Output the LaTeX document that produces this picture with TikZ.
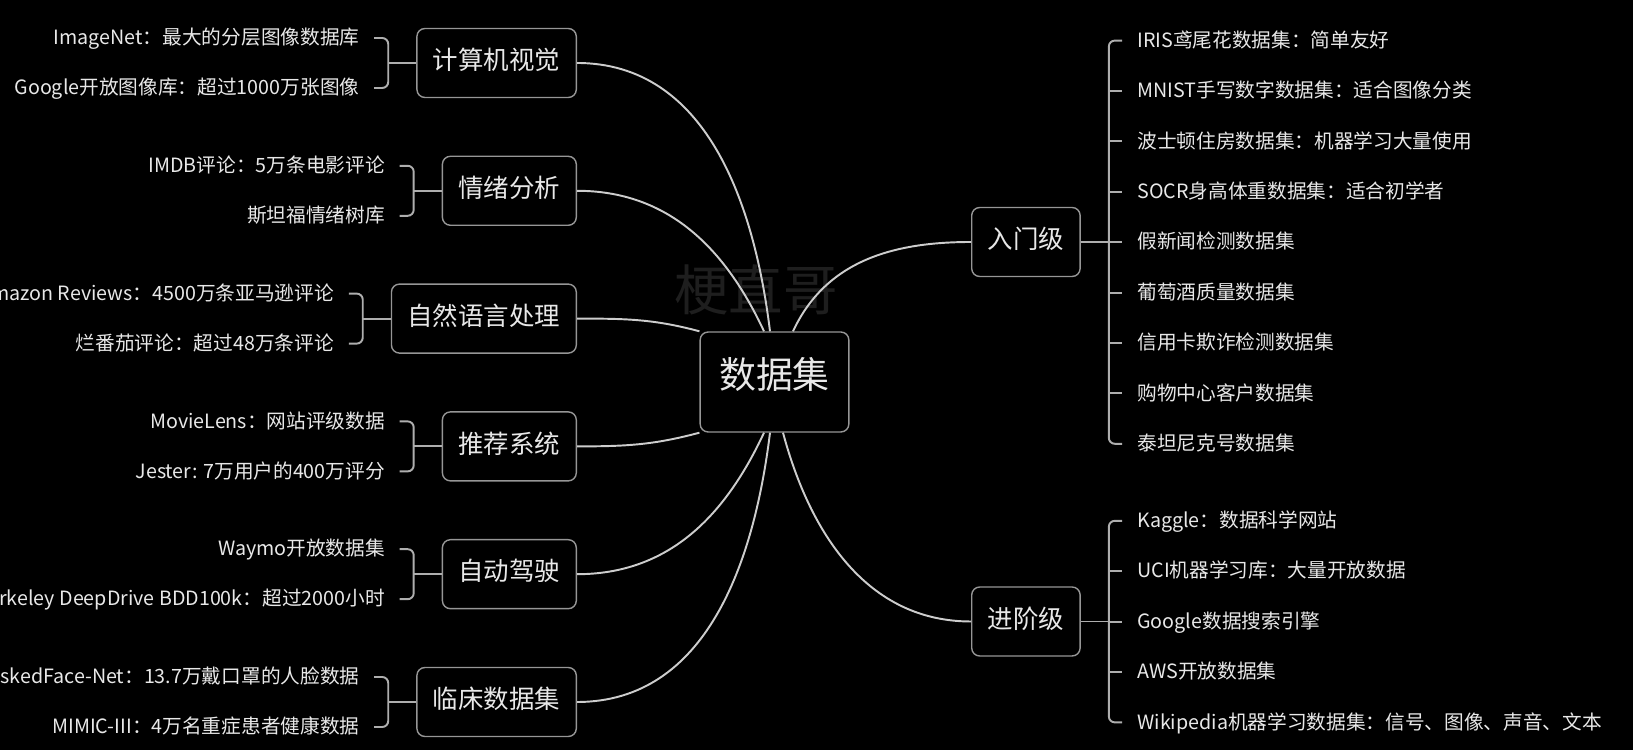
\documentclass[tikz,border=0pt]{standalone}
\usepackage{fontspec}
\setmainfont{Noto Sans CJK SC}
\usepackage{tikz}
\usetikzlibrary{positioning}
\definecolor{paper}{RGB}{0, 0, 0}
\definecolor{ink}{RGB}{232, 232, 232}
\definecolor{frame}{RGB}{150, 150, 150}
\definecolor{cord}{RGB}{205, 205, 205}
\definecolor{ghost}{RGB}{30, 30, 30}

\tikzset{
  hub/.style={draw=frame, line width=0.8pt, rounded corners=0.16cm, fill=paper, text=ink,
    font=\fontsize{21pt}{21pt}\selectfont, inner xsep=0.38cm, minimum height=2cm,
    text height=0.8em, text depth=0.04em},
  topic/.style={draw=frame, line width=0.8pt, rounded corners=0.16cm, fill=paper, text=ink,
    font=\fontsize{14.5pt}{14.5pt}\selectfont, inner xsep=0.32cm, minimum height=1.38cm,
    text height=0.8em, text depth=0.04em},
  leaf/.style={text=ink, inner sep=0pt, font=\fontsize{11.2pt}{11.2pt}\selectfont,
    text height=0.8em, text depth=0.04em},
  link/.style={draw=cord, line width=1.1pt},
  brace/.style={draw=cord!85!black, line width=1.1pt, rounded corners=0.12cm}
}

\begin{document}
\begin{tikzpicture}[x=0.02cm, y=0.02cm]

  \pgfmathsetmacro{\gap}{127.8}
  \pgfmathsetmacro{\pitch}{50.4}

  \fill[paper] (0, 0) rectangle (1633, 750);
  \useasboundingbox (0, 0) rectangle (1633, 750);

  \node[text=ghost, font=\fontsize{31pt}{31pt}\selectfont] (mark) at (756, 460) {梗直哥};

  \node[hub] (data) at (774.5, 368) {数据集};

  % left side
  \node[topic, anchor=east] (vision) at (577, 687) {计算机视觉};
  \node[topic, anchor=east] (mood)   at (577, {687 - \gap}) {情绪分析};
  \node[topic, anchor=east] (nlp)    at (577, {687 - 2*\gap}) {自然语言处理};
  \node[topic, anchor=east] (recsys) at (577, {687 - 3*\gap}) {推荐系统};
  \node[topic, anchor=east] (drive)  at (577, {687 - 4*\gap}) {自动驾驶};
  \node[topic, anchor=east] (clinic) at (577, {687 - 5*\gap}) {临床数据集};

  \node[leaf, anchor=east] (vision-a) at ([xshift=-1.13cm, yshift=0.5cm]vision.west) {ImageNet：最大的分层图像数据库};
  \node[leaf, anchor=east] (vision-b) at ([xshift=-1.13cm, yshift=-0.5cm]vision.west) {Google开放图像库：超过1000万张图像};
  \node[leaf, anchor=east] (mood-a) at ([xshift=-1.13cm, yshift=0.5cm]mood.west) {IMDB评论：5万条电影评论};
  \node[leaf, anchor=east] (mood-b) at ([xshift=-1.13cm, yshift=-0.5cm]mood.west) {斯坦福情绪树库};
  \node[leaf, anchor=east] (nlp-a) at ([xshift=-1.13cm, yshift=0.5cm]nlp.west) {Amazon Reviews：4500万条亚马逊评论};
  \node[leaf, anchor=east] (nlp-b) at ([xshift=-1.13cm, yshift=-0.5cm]nlp.west) {烂番茄评论：超过48万条评论};
  \node[leaf, anchor=east] (recsys-a) at ([xshift=-1.13cm, yshift=0.5cm]recsys.west) {MovieLens：网站评级数据};
  \node[leaf, anchor=east] (recsys-b) at ([xshift=-1.13cm, yshift=-0.5cm]recsys.west) {Jester: 7万用户的400万评分};
  \node[leaf, anchor=east] (drive-a) at ([xshift=-1.13cm, yshift=0.5cm]drive.west) {Waymo开放数据集};
  \node[leaf, anchor=east] (drive-b) at ([xshift=-1.13cm, yshift=-0.5cm]drive.west) {Berkeley DeepDrive BDD100k：超过2000小时};
  \node[leaf, anchor=east] (clinic-a) at ([xshift=-1.13cm, yshift=0.5cm]clinic.west) {MaskedFace-Net：13.7万戴口罩的人脸数据};
  \node[leaf, anchor=east] (clinic-b) at ([xshift=-1.13cm, yshift=-0.5cm]clinic.west) {MIMIC-III：4万名重症患者健康数据};

  \foreach \t in {vision, mood, nlp, recsys, drive, clinic} {
    \draw[brace] ([xshift=0.29cm]\t-a.east) -| ([xshift=-0.56cm]\t.west)
      |- ([xshift=0.29cm]\t-b.east);
    \draw[brace] ([xshift=-0.56cm]\t.west) -- (\t.west);
  }

  % right side
  \node[topic, anchor=west] (basic) at (971, 508) {入门级};
  \node[topic, anchor=west] (adv)   at (971, 128.5) {进阶级};

  \node[leaf, anchor=west] (basic-0) at (1137, 709.4) {IRIS鸢尾花数据集：简单友好};
  \node[leaf, anchor=west] (basic-1) at (1137, {709.4 - \pitch}) {MNIST手写数字数据集：适合图像分类};
  \node[leaf, anchor=west] (basic-2) at (1137, {709.4 - 2*\pitch}) {波士顿住房数据集：机器学习大量使用};
  \node[leaf, anchor=west] (basic-3) at (1137, {709.4 - 3*\pitch}) {SOCR身高体重数据集：适合初学者};
  \node[leaf, anchor=west] (basic-4) at (1137, {709.4 - 4*\pitch}) {假新闻检测数据集};
  \node[leaf, anchor=west] (basic-5) at (1137, {709.4 - 5*\pitch}) {葡萄酒质量数据集};
  \node[leaf, anchor=west] (basic-6) at (1137, {709.4 - 6*\pitch}) {信用卡欺诈检测数据集};
  \node[leaf, anchor=west] (basic-7) at (1137, {709.4 - 7*\pitch}) {购物中心客户数据集};
  \node[leaf, anchor=west] (basic-8) at (1137, {709.4 - 8*\pitch}) {泰坦尼克号数据集};

  \node[leaf, anchor=west] (adv-0) at (1137, 229.2) {Kaggle：数据科学网站};
  \node[leaf, anchor=west] (adv-1) at (1137, {229.2 - \pitch}) {UCI机器学习库：大量开放数据};
  \node[leaf, anchor=west] (adv-2) at (1137, {229.2 - 2*\pitch}) {Google数据搜索引擎};
  \node[leaf, anchor=west] (adv-3) at (1137, {229.2 - 3*\pitch}) {AWS开放数据集};
  \node[leaf, anchor=west] (adv-4) at (1137, {229.2 - 4*\pitch}) {Wikipedia机器学习数据集：信号、图像、声音、文本};

  \coordinate (basic-spine) at ([xshift=0.56cm]basic.east);
  \coordinate (adv-spine) at ([xshift=0.56cm]adv.east);

  \draw[brace] ([xshift=-0.3cm]basic-0.west) -| (basic-spine) |- ([xshift=-0.3cm]basic-8.west);
  \foreach \k in {1,...,7}
    \draw[brace] (basic-spine |- basic-\k.west) -- ([xshift=-0.3cm]basic-\k.west);
  \draw[brace] (basic.east) -- (basic-spine);

  \draw[brace] ([xshift=-0.3cm]adv-0.west) -| (adv-spine) |- ([xshift=-0.3cm]adv-4.west);
  \foreach \k in {1,2,3}
    \draw[brace] (adv-spine |- adv-\k.west) -- ([xshift=-0.3cm]adv-\k.west);
  \draw[brace] (adv.east) -- (adv-spine);

  % curves out of the hub
  \draw[link] (vision.east) to[out=0, in=97] ([xshift=-0.09cm]data.north);
  \draw[link] (mood.east) to[out=0, in=115] ([xshift=-0.21cm]data.north);
  \draw[link] (nlp.east) to[out=0, in=165] (data.north west);
  \draw[link] (recsys.east) to[out=0, in=195] (data.south west);
  \draw[link] (drive.east) to[out=0, in=-115] ([xshift=-0.21cm]data.south);
  \draw[link] (clinic.east) to[out=0, in=-97] ([xshift=-0.09cm]data.south);
  \draw[link] ([xshift=0.37cm]data.north) to[out=65, in=180] (basic.west);
  \draw[link] ([xshift=0.17cm]data.south) to[out=-75, in=180] (adv.west);

\end{tikzpicture}
\end{document}
